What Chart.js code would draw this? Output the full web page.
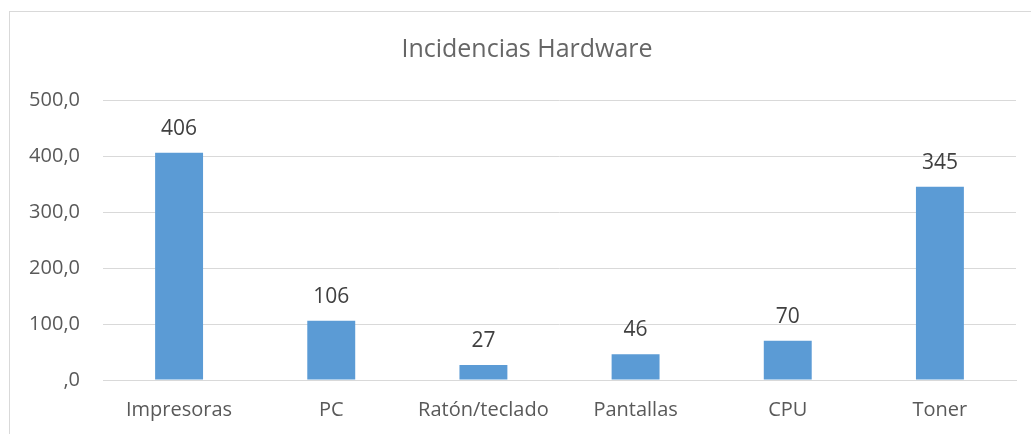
<!DOCTYPE html>
<html lang="es">
<head>
<meta charset="utf-8">
<title>Incidencias Hardware</title>
<script src="https://cdn.jsdelivr.net/npm/chart.js@4.4.1/dist/chart.umd.min.js"></script>
<style>
  html, body { margin: 0; padding: 0; background: #fff; overflow: hidden; }
  #frame {
    position: absolute;
    left: 9px;
    top: 11px;
    width: 1100px;
    height: 500px;
    border: 1px solid #d9d9d9;
  }
  #hwChart { display: block; }
</style>
</head>
<body>
<div id="frame">
  <canvas id="hwChart" width="1034" height="422"></canvas>
</div>
<script>
// ----------------------
// Data
// ----------------------
const categories = ["Impresoras", "PC", "Ratón/teclado", "Pantallas", "CPU", "Toner"];
const incidencias = [406, 106, 27, 46, 70, 345];
const yTicks = [0, 100, 200, 300, 400, 500];

const FONT = "'Open Sans', 'Noto Sans', sans-serif";

// ----------------------
// Value labels above bars
// ----------------------
const barValues = {
  id: "barValues",
  afterDatasetsDraw(chart) {
    const ctx = chart.ctx;
    const meta = chart.getDatasetMeta(0);
    ctx.save();
    ctx.font = "21px " + FONT;
    ctx.fillStyle = "#404040";
    ctx.textAlign = "center";
    ctx.textBaseline = "middle";
    meta.data.forEach((bar, i) => {
      ctx.fillText(String(incidencias[i]), bar.x, bar.y - 24);
    });
    ctx.restore();
  }
};

// ----------------------
// Chart
// ----------------------
new Chart(document.getElementById("hwChart"), {
  type: "bar",
  data: {
    labels: categories,
    datasets: [{
      label: "Incidencias",
      data: incidencias,
      backgroundColor: "#5b9bd5",
      borderWidth: 0,
      categoryPercentage: 1,
      barPercentage: 0.315
    }]
  },
  options: {
    responsive: false,
    animation: false,
    layout: { padding: 0 },
    plugins: {
      legend: { display: false },
      tooltip: { enabled: false },
      title: {
        display: true,
        text: "Incidencias Hardware",
        color: "#666666",
        font: { family: FONT, size: 25, weight: "normal" },
        padding: { top: 23, bottom: 35 }
      }
    },
    scales: {
      x: {
        grid: { display: false, drawTicks: false },
        border: { display: true, color: "#d9d9d9", width: 1 },
        ticks: {
          color: "#595959",
          font: { family: FONT, size: 20 },
          padding: 18,
          maxRotation: 0
        },
        afterFit(scale) { scale.height = 54; }
      },
      y: {
        min: 0,
        max: 500,
        afterBuildTicks(scale) { scale.ticks = yTicks.map(v => ({ value: v })); },
        grid: { color: "#d9d9d9", lineWidth: 1, drawTicks: false },
        border: { display: false },
        ticks: {
          color: "#595959",
          font: { family: FONT, size: 20 },
          padding: 23,
          callback: v => v === 0 ? ",0" : v.toFixed(1).replace(".", ",")
        },
        afterFit(scale) { scale.width = 93; }
      },
      // empty right gutter so the title centres like the original
      gutter: {
        type: "linear",
        position: "right",
        min: 0,
        max: 1,
        grid: { display: false, drawTicks: false },
        border: { display: false },
        ticks: { display: false },
        afterFit(scale) { scale.width = 28; }
      }
    }
  },
  plugins: [barValues]
});
</script>
</body>
</html>
